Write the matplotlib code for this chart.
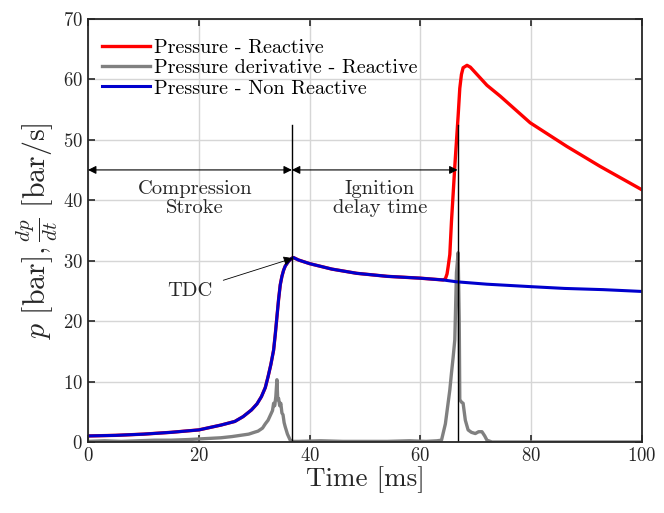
import matplotlib
matplotlib.use("Agg")
import matplotlib.pyplot as plt

plt.rcParams['font.family'] = 'serif'
plt.rcParams['font.serif'] = ['cmr10']
plt.rcParams['mathtext.fontset'] = 'cm'
plt.rcParams['axes.formatter.use_mathtext'] = True

# pressure, non reactive
t_nonreact = [0, 5, 10, 15, 20, 24, 26.5, 28, 29.5, 30.5, 31.3, 32, 32.5, 33, 33.5,
              33.8, 34.1, 34.4, 34.7, 35.0, 35.3, 35.6, 36.2, 36.8, 37.1, 38, 40, 44,
              48.5, 54, 59.9, 64.1, 66.5, 72, 79.8, 86, 93, 100]
p_nonreact = [1.0, 1.1, 1.3, 1.6, 2.0, 2.8, 3.4, 4.2, 5.3, 6.3, 7.5, 9.0, 10.8, 12.8, 15.2,
              17.8, 20.7, 23.6, 26.0, 27.4, 28.4, 29.1, 29.9, 30.4, 30.5, 30.1, 29.5, 28.6,
              27.9, 27.4, 27.1, 26.8, 26.5, 26.1, 25.7, 25.4, 25.2, 24.9]

# pressure, reactive
t_react = [0, 5, 10, 15, 20, 24, 26.5, 28, 29.5, 30.5, 31.3, 32, 32.5, 33, 33.5,
           33.8, 34.1, 34.4, 34.7, 35.0, 35.3, 35.6, 36.2, 36.8, 37.1, 38, 40, 44,
           48.5, 54, 59.9, 64.1, 64.5, 64.8, 65.0, 65.3, 65.6, 65.9, 66.2, 66.8,
           67.1, 67.4, 67.7, 68.4, 69.0, 72.0, 74.4, 79.8, 86.4, 92.4, 100]
p_react = [1.0, 1.1, 1.3, 1.6, 2.0, 2.8, 3.4, 4.2, 5.3, 6.3, 7.5, 9.0, 10.8, 12.8, 15.2,
           17.8, 20.7, 23.6, 26.0, 27.4, 28.4, 29.1, 29.9, 30.4, 30.5, 30.1, 29.5, 28.6,
           27.9, 27.4, 27.1, 26.8, 27.0, 27.8, 29.0, 31.0, 36.5, 41.0, 45.6, 53.9,
           58.5, 60.8, 61.9, 62.3, 62.0, 59.0, 57.2, 52.8, 48.9, 45.6, 41.7]

# pressure derivative, reactive
t_dpdt = [0, 3, 6, 9, 12, 15, 18, 20, 22, 24, 26, 27.5, 29, 30, 30.7, 31.5, 32, 32.5,
          33, 33.3, 33.5, 33.7, 33.9, 34.1, 34.25, 34.4, 34.6, 34.8, 35.0, 35.2, 35.4,
          35.6, 36.0, 36.5, 37.0,
          38, 42, 46, 50, 54, 58, 61, 63, 63.8, 64.5, 65.0, 65.3, 65.6, 65.9, 66.2,
          66.5, 66.8, 67.0, 67.1, 67.4, 67.7, 68.1, 68.6, 69.2, 69.9, 70.5, 71.1,
          71.6, 72.0, 72.9, 76, 80, 90, 100]
dpdt = [0.1, 0.2, 0.1, 0.2, 0.3, 0.3, 0.4, 0.5, 0.6, 0.7, 0.9, 1.1, 1.3, 1.6, 1.8, 2.3,
        3.0, 3.6, 4.6, 5.2, 6.4, 6.0, 7.5, 10.3, 7.0, 7.2, 6.0, 6.4, 4.8, 4.5, 3.2,
        2.5, 1.3, 0.3, 0.1,
        0.1, 0.2, 0.1, 0.1, 0.1, 0.2, 0.1, 0.2, 0.3, 3.0, 6.5, 8.6, 11.4, 14.0, 16.9,
        28.0, 31.3, 20.0, 7.0, 6.6, 6.4, 3.6, 2.0, 1.6, 1.4, 1.7, 1.7, 1.0, 0.3,
        0.0, 0.0, 0.0, 0.0, 0.0]

t_tdc = 36.8
t_ign = 66.7
marker_top = 52.4
arrow_y = 45

fig = plt.figure(figsize=(6.64, 5.13), dpi=100)
ax = fig.add_axes([0.1325, 0.1384, 0.8345, 0.825])

ax.plot(t_react, p_react, color='#ff0000', lw=2.4, label='Pressure - Reactive')
ax.plot(t_dpdt, dpdt, color='#808080', lw=2.4, label='Pressure derivative - Reactive')
ax.plot(t_nonreact, p_nonreact, color='#0000cd', lw=2.2, label='Pressure - Non Reactive')

ax.plot([t_tdc, t_tdc], [0, marker_top], color='black', lw=1.0)
ax.plot([t_ign, t_ign], [0, marker_top], color='black', lw=1.0)

ax.annotate('', xy=(0, arrow_y), xytext=(t_tdc, arrow_y),
            arrowprops=dict(arrowstyle='<|-|>', color='black', lw=0.8,
                            mutation_scale=12, shrinkA=0, shrinkB=0))
ax.annotate('', xy=(t_tdc, arrow_y), xytext=(t_ign, arrow_y),
            arrowprops=dict(arrowstyle='<|-|>', color='black', lw=0.8,
                            mutation_scale=12, shrinkA=0, shrinkB=0))
ax.text(19.3, 40.3, 'Compression\nStroke', ha='center', va='center',
        fontsize=14.8, linespacing=1.1, color='#262626')
ax.text(52.7, 40.3, 'Ignition\ndelay time', ha='center', va='center',
        fontsize=14.8, linespacing=1.1, color='#262626')
ax.annotate('TDC', xy=(37.0, 30.4), xytext=(18.4, 25.0), ha='center', va='center',
            fontsize=14.8, color='#262626',
            arrowprops=dict(arrowstyle='-|>', color='black', lw=0.6,
                            mutation_scale=14, shrinkA=6, shrinkB=0))

ax.set_xlim(0, 100)
ax.set_ylim(0, 70)
ax.set_xticks(range(0, 101, 20))
ax.set_yticks(range(0, 71, 10))
ax.grid(True, color='#d6d6d6', lw=1.0)
ax.set_axisbelow(True)
ax.tick_params(direction='in', top=True, right=True, length=5, width=1.2,
               labelsize=13.5, colors='#262626', labelcolor='#262626')
for s in ax.spines.values():
    s.set_linewidth(1.3)
    s.set_color('#262626')

ax.set_xlabel('Time [ms]', fontsize=19.5, labelpad=1, color='#262626')
ax.set_ylabel(r'$p\ [\mathrm{bar}], \frac{dp}{dt}\ [\mathrm{bar/s}]$', fontsize=21.5,
              labelpad=2, color='#262626')

ax.legend(loc='upper left', frameon=False, fontsize=14.5, handlelength=2.4,
          handletextpad=0.2, labelspacing=0.1, borderaxespad=0.3,
          bbox_to_anchor=(0.0, 0.985))

fig.savefig('out.png', dpi=100)
